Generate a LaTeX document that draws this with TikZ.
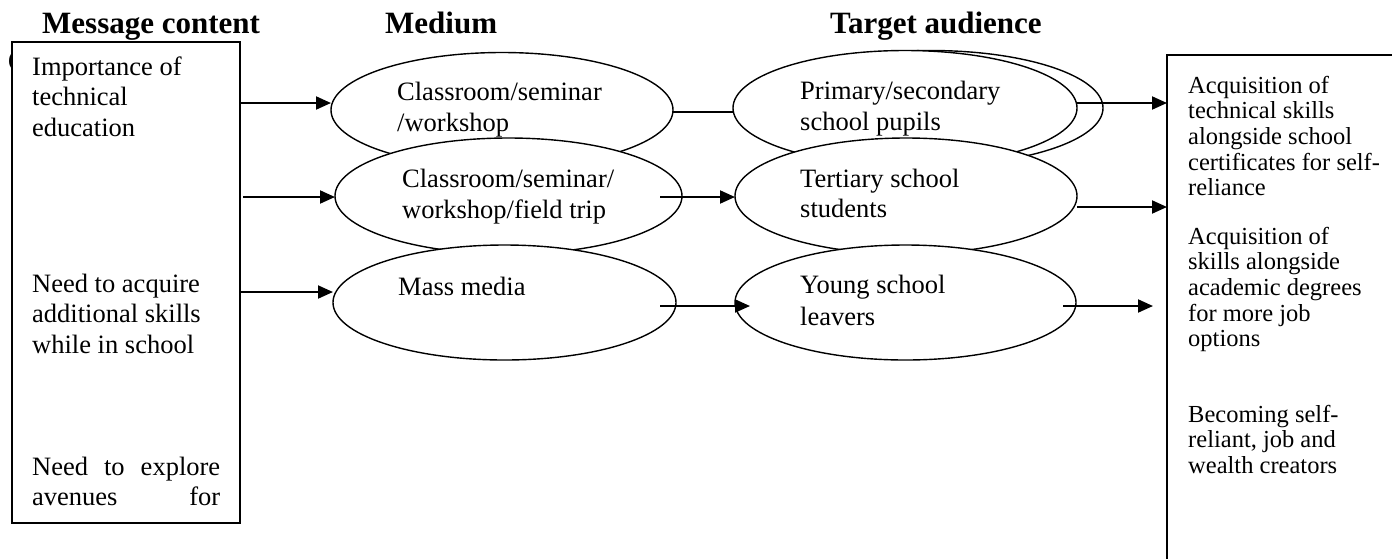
\documentclass[tikz,border=0pt]{standalone}
\usepackage{fontspec}
\setmainfont{Liberation Serif}
\usetikzlibrary{shapes.geometric,arrows.meta}
\newcommand{\mylines}[1]{\begin{tabular}[t]{@{}l@{}}#1\end{tabular}}
\begin{document}
\begin{tikzpicture}[x=1pt,y=-1pt,
  hdr/.style={font=\fontsize{31}{36}\selectfont\bfseries, inner sep=0pt, anchor=base west},
  bodytxt/.style={font=\fontsize{26.5}{30.5}\selectfont, inner sep=0pt, anchor=base west},
  elltxt/.style={font=\fontsize{26.5}{31.5}\selectfont, inner sep=0pt, anchor=base west},
  smalltxt/.style={font=\fontsize{24.5}{25.7}\selectfont, inner sep=0pt, anchor=base west},
  box/.style={draw, line width=2pt, fill=white, anchor=north west, inner sep=0pt, outer sep=0pt},
  ell/.style={ellipse, draw, line width=1.4pt, fill=white, inner sep=0pt, outer sep=0pt},
  arr/.style={line width=2pt, -{Triangle[length=15pt,width=13pt]}},
  plainline/.style={line width=2pt}]
\useasboundingbox (0,0) rectangle (1392,558);
\clip (0,0) rectangle (1392,558);
\fill[white] (0,0) rectangle (1392,558);
% headers
\node[hdr] (h1) at (42,33) {Message content};
\node[hdr] (h2) at (385,33) {Medium};
\node[hdr] (h3) at (830,33) {Target audience};
\node[hdr] (hc) at (7.5,71) {C};
% left box
\node[box, minimum width=228pt, minimum height=481pt] (lbox) at (12,42) {};
\node[bodytxt] (lt1) at (32,75) {\mylines{Importance of\\technical\\education}};
\node[bodytxt] (lt2) at (32,292) {\mylines{Need to acquire\\additional skills\\while in school}};
\node[bodytxt, font=\fontsize{26.5}{30}\selectfont] (lt3) at (32,475) {\mylines{\makebox[188pt][s]{Need to explore}\\\makebox[188pt][s]{avenues for}}};
% right box
\node[box, minimum width=260pt, minimum height=560pt] (rbox) at (1167,55) {};
\node[smalltxt] (rt1) at (1188,93) {\mylines{Acquisition of\\technical skills\\alongside school\\certificates for self-\\reliance}};
\node[smalltxt] (rt2) at (1188,244) {\mylines{Acquisition of\\skills alongside\\academic degrees\\for more job\\options}};
\node[smalltxt] (rt3) at (1188,422) {\mylines{Becoming self-\\reliant, job and\\wealth creators}};
% row 1
\node[ell, minimum width=342pt, minimum height=115pt] (e1) at (502,110) {};
\node[elltxt] (t1) at (397,100) {\mylines{Classroom/seminar\\/workshop}};
\node[ell, minimum width=344pt, minimum height=115pt] (e4b) at (931,108) {};
\node[ell, minimum width=344pt, minimum height=115pt] (e4) at (905,108) {};
\node[elltxt] (t4) at (800,99) {\mylines{Primary/secondary\\school pupils}};
% row 2
\node[ell, minimum width=347pt, minimum height=116pt] (e2) at (508.5,196) {};
\node[elltxt, font=\fontsize{26.5}{31}\selectfont] (t2) at (402,187) {\mylines{Classroom/seminar/\\workshop/field trip}};
\node[ell, minimum width=342pt, minimum height=116pt] (e5) at (906,196) {};
\node[elltxt, font=\fontsize{26.5}{30}\selectfont] (t5) at (800,187) {\mylines{Tertiary school\\students}};
% row 3
\node[ell, minimum width=343pt, minimum height=115pt] (e3) at (504.5,302.5) {};
\node[elltxt] (t3) at (398,295) {Mass media};
\node[ell, minimum width=341pt, minimum height=115pt] (e6) at (905.5,302.5) {};
\node[elltxt, font=\fontsize{26.5}{32}\selectfont] (t6) at (800,293) {\mylines{Young school\\leavers}};
% connectors
\draw[arr] (lbox.east |- 0,103) -- (e1.west |- 0,103);
\draw[arr] ([xshift=3pt]lbox.east |- 0,197) -- (e2.west |- 0,197);
\draw[arr] (lbox.east |- 0,292) -- (e3.west |- 0,292);
\draw[plainline] (e1.east |- 0,112) -- (e4.west |- 0,112);
\draw[arr] ([xshift=-22pt]e2.east |- 0,197) -- (e5.west |- 0,197);
\draw[arr] ([xshift=-16pt]e3.east |- 0,306) -- ([xshift=15pt]e6.west |- 0,306);
\draw[arr] (e4.east |- 0,103) -- (rbox.west |- 0,103);
\draw[arr] (e5.east |- 0,207) -- (rbox.west |- 0,207);
\draw[arr] ([xshift=-13pt]e6.east |- 0,306) -- ([xshift=-14pt]rbox.west |- 0,306);
\end{tikzpicture}
\end{document}
